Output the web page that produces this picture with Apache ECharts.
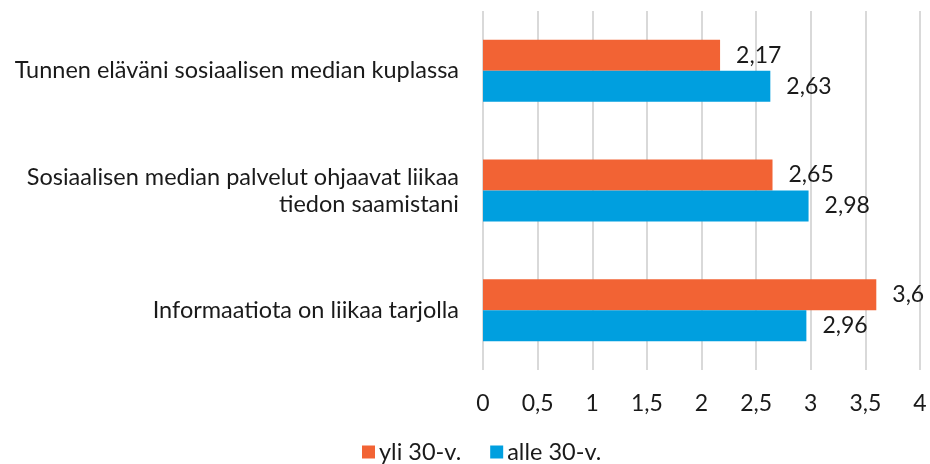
<!DOCTYPE html>
<html>
<head>
<meta charset="utf-8">
<script src="https://cdn.jsdelivr.net/npm/echarts@6/dist/echarts.min.js"></script>
<style>
  html, body { margin: 0; padding: 0; background: #fff; }
  #chart { width: 930px; height: 464px; }
</style>
</head>
<body>
<div id="chart"></div>
<script>
// categories top to bottom
const categories = [
  'Tunnen eläväni sosiaalisen median kuplassa',
  'Sosiaalisen median palvelut ohjaavat liikaa\ntiedon saamistani',
  'Informaatiota on liikaa tarjolla'
]
const seriesNames = ['yli 30-v.', 'alle 30-v.']
const yli30 = [2.17, 2.65, 3.6]
const alle30 = [2.63, 2.98, 2.96]
const colors = ['#F26334', '#009FDF']

const fi = v => String(v).replace('.', ',')
const font = 'Lato'

const chart = echarts.init(document.getElementById('chart'))

const labelStyle = {
  show: true,
  position: 'right',
  distance: 16,
  fontFamily: font,
  fontSize: 23,
  color: '#1a1a1a',
  formatter: p => fi(p.value)
}

chart.setOption({
  animation: false,
  textStyle: { fontFamily: font },
  grid: {
    left: 483,
    right: 10,
    top: 11,
    bottom: 94,
    containLabel: false
  },
  legend: {
    data: seriesNames,
    top: 440,
    left: 362,
    padding: 0,
    icon: 'rect',
    itemWidth: 13,
    itemHeight: 13,
    itemGap: 29,
    textStyle: { fontFamily: font, fontSize: 23.5, color: '#1a1a1a', padding: [0, 0, 0, -1] }
  },
  xAxis: {
    type: 'value',
    min: 0,
    max: 4,
    interval: 0.5,
    axisLine: { show: false },
    axisTick: { show: false },
    splitLine: { lineStyle: { color: '#d9d9d9', width: 2 } },
    axisLabel: {
      margin: 22,
      fontFamily: font,
      fontSize: 23,
      color: '#1a1a1a',
      formatter: v => fi(v)
    }
  },
  yAxis: {
    type: 'category',
    inverse: true,
    data: categories,
    axisLine: { show: false },
    axisTick: { show: false },
    axisLabel: {
      margin: 24,
      fontFamily: font,
      fontSize: 23.5,
      lineHeight: 27,
      color: '#1a1a1a',
      align: 'right'
    }
  },
  series: [
    {
      name: seriesNames[0],
      type: 'bar',
      data: yli30,
      barWidth: 31,
      barGap: '0%',
      itemStyle: { color: colors[0] },
      label: labelStyle
    },
    {
      name: seriesNames[1],
      type: 'bar',
      data: alle30,
      barWidth: 31,
      barGap: '0%',
      itemStyle: { color: colors[1] },
      label: labelStyle
    }
  ]
})
</script>
</body>
</html>
